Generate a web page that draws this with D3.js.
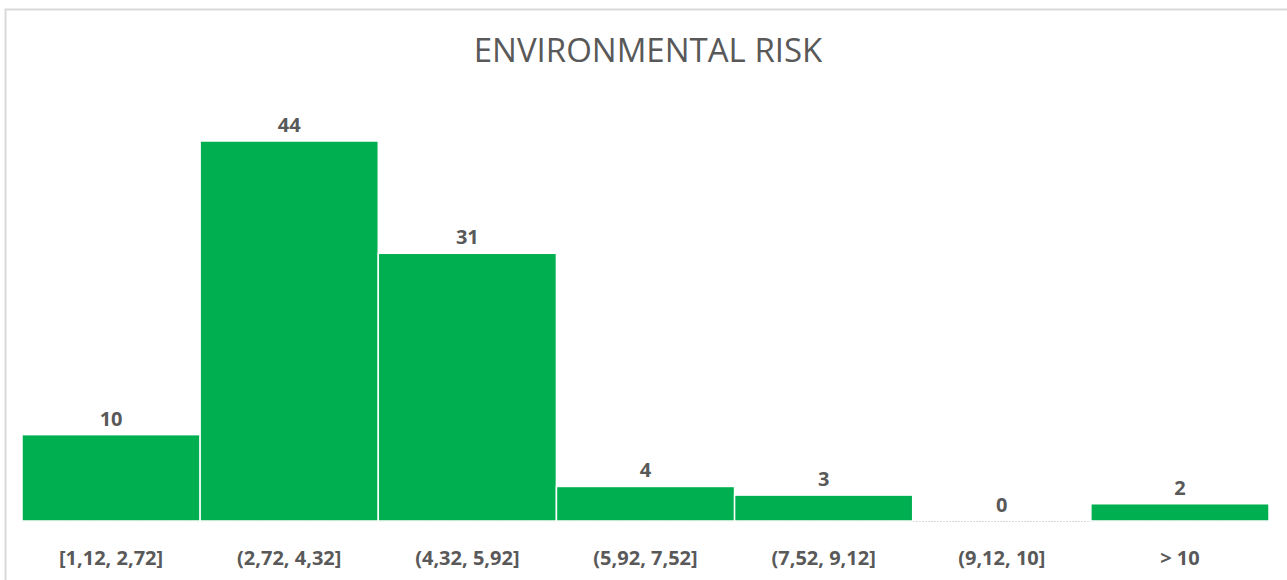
<!DOCTYPE html>
<html>
<head>
<meta charset="utf-8">
<script src="https://cdn.jsdelivr.net/npm/d3@7"></script>
<style>
  html, body { margin: 0; padding: 0; background: #fff; }
  svg { display: block; }
</style>
</head>
<body>
<script>
// Histogram of environmental risk scores
const categories = ["[1,12, 2,72]", "(2,72, 4,32]", "(4,32, 5,92]", "(5,92, 7,52]", "(7,52, 9,12]", "(9,12, 10]", "> 10"];
const counts = [10, 44, 31, 4, 3, 0, 2];
const title = "ENVIRONMENTAL RISK";

const W = 1287, H = 580;
const plotLeft = 22, plotRight = 1269, baseline = 521, plotTop = 141;
const green = "#00B050", textGray = "#595959";
const font = "'Open Sans', 'Noto Sans', sans-serif";

const svg = d3.select("body").append("svg").attr("width", W).attr("height", H);

// chart frame
svg.append("rect")
  .attr("x", 5.5).attr("y", 9.5).attr("width", W + 10).attr("height", H + 10)
  .attr("fill", "#fff").attr("stroke", "#d9d9d9").attr("stroke-width", 2);

const x = d3.scaleBand().domain(categories).range([plotLeft, plotRight]).paddingInner(0).paddingOuter(0);
const y = d3.scaleLinear().domain([0, 44]).range([baseline, plotTop]);

// category axis line
svg.append("line")
  .attr("x1", plotLeft).attr("x2", plotRight).attr("y1", baseline + 0.5).attr("y2", baseline + 0.5)
  .attr("stroke", "#d9d9d9").attr("stroke-width", 1).attr("stroke-dasharray", "2,1");

// bars
svg.append("g").selectAll("rect").data(counts).join("rect")
  .attr("x", (d, i) => x(categories[i]))
  .attr("y", d => y(d))
  .attr("width", x.bandwidth())
  .attr("height", d => baseline - y(d))
  .attr("fill", green)
  .attr("stroke", "#fff").attr("stroke-width", 1.5);

// value labels
svg.append("g").selectAll("text").data(counts).join("text")
  .attr("x", (d, i) => x(categories[i]) + x.bandwidth() / 2)
  .attr("y", d => y(d) - 9)
  .attr("text-anchor", "middle")
  .attr("font-family", font).attr("font-weight", 700).attr("font-size", 20)
  .attr("fill", textGray)
  .text(d => d);

// category labels
const xAxis = d3.axisBottom(x).tickSize(0).tickPadding(0);
const gx = svg.append("g").attr("transform", `translate(0,${baseline})`).call(xAxis);
gx.select(".domain").remove();
gx.selectAll("text")
  .attr("y", 44)
  .attr("dy", 0)
  .attr("font-family", font).attr("font-weight", 700).attr("font-size", 20)
  .attr("fill", textGray);

// title
svg.append("text")
  .attr("x", 648).attr("y", 62)
  .attr("text-anchor", "middle")
  .attr("font-family", font).attr("font-size", 33)
  .attr("fill", textGray)
  .text(title);
</script>
</body>
</html>
